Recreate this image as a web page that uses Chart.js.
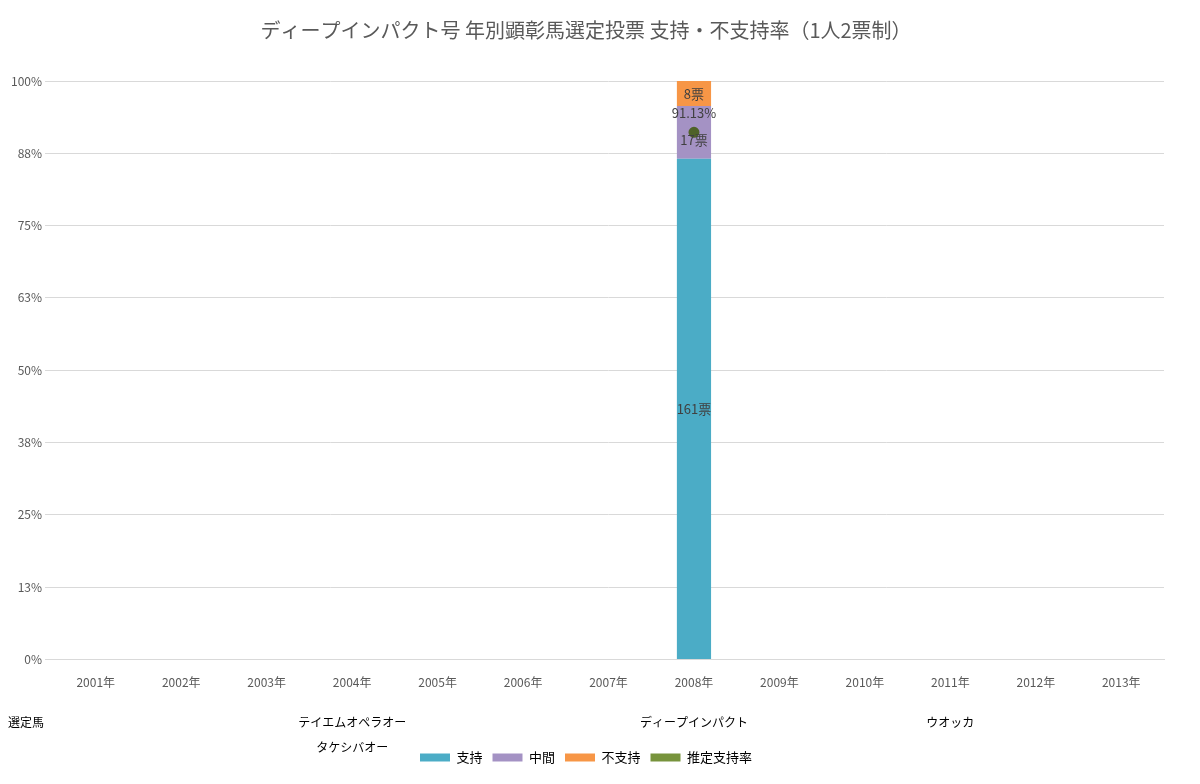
<!DOCTYPE html>
<html><head><meta charset="utf-8">
<script src="https://cdn.jsdelivr.net/npm/chart.js@4/dist/chart.umd.min.js"></script>
<style>html,body{margin:0;background:#fff}#w{width:1200px;height:784px}</style>
</head><body><div id="w"><canvas id="c"></canvas></div>
<script>
const years=["2001年","2002年","2003年","2004年","2005年","2006年","2007年","2008年","2009年","2010年","2011年","2012年","2013年"];
const horses=["","","",["テイエムオペラオー","タケシバオー"],"","","",["ディープインパクト"],"","",["ウオッカ"],"",""];
const supportVotes=[null,null,null,null,null,null,null,161,null,null,null,null,null];
const middleVotes=[null,null,null,null,null,null,null,17,null,null,null,null,null];
const againstVotes=[null,null,null,null,null,null,null,8,null,null,null,null,null];
const estRate=[null,null,null,null,null,null,null,91.13,null,null,null,null,null];
const yTicks=["0%","13%","25%","38%","50%","63%","75%","88%","100%"];
const pct=(a)=>a.map((v,i)=>v==null?null:v/(supportVotes[i]+middleVotes[i]+againstVotes[i])*100);
const F="'Noto Sans CJK JP','Noto Sans',sans-serif";
const labelsPlugin={id:'lbl',afterDatasetsDraw(ch){const c=ch.ctx;c.save();c.font="13px "+F;c.fillStyle="#404040";c.textAlign="center";c.textBaseline="middle";
 const raw=[supportVotes,middleVotes,againstVotes];
 for(let d=0;d<3;d++){const m=ch.getDatasetMeta(d);m.data.forEach((b,i)=>{if(raw[d][i]==null)return;c.fillText(raw[d][i]+"票",b.x,(b.y+b.base)/2+(d==1?8:(d==2?1:0)));});}
 const m=ch.getDatasetMeta(3);m.data.forEach((p,i)=>{if(estRate[i]==null)return;c.fillText(estRate[i].toFixed(2)+"%",p.x,p.y-19);});
 c.fillStyle="#000";c.font="12px "+F;
 const xs=ch.scales.x;horses.forEach((h,i)=>{if(!h)return;h.forEach((s,k)=>c.fillText(s,xs.getPixelForValue(i),722+k*25));});
 c.textAlign="left";c.fillText("選定馬",8,722);c.restore();}};
new Chart(document.getElementById('c'),{
 data:{labels:years,datasets:[
  {type:'bar',label:'支持',data:pct(supportVotes),backgroundColor:'#4bacc6',stack:'s',order:2},
  {type:'bar',label:'中間',data:pct(middleVotes),backgroundColor:'#a492c4',stack:'s',order:2},
  {type:'bar',label:'不支持',data:pct(againstVotes),backgroundColor:'#f79646',stack:'s',order:2},
  {type:'line',label:'推定支持率',data:estRate,borderColor:'#77933c',backgroundColor:'#4f6228',pointRadius:4,pointBorderColor:'#4f6228',borderWidth:3,order:1}
 ]},
 options:{responsive:true,maintainAspectRatio:false,animation:false,
  layout:{padding:{left:8,right:36,top:10,bottom:10}},
  datasets:{bar:{barPercentage:0.4,categoryPercentage:1}},
  plugins:{title:{display:true,text:'ディープインパクト号 年別顕彰馬選定投票 支持・不支持率（1人2票制）',color:'#595959',font:{size:20,family:F,weight:'normal'},padding:{top:8,bottom:39}},
   legend:{position:'bottom',labels:{color:'#404040',font:{size:13,family:F},boxWidth:30,boxHeight:8,padding:10,
    generateLabels(ch){return ch.data.datasets.map((d,i)=>({text:d.label,fillStyle:i==3?'#77933c':d.backgroundColor,strokeStyle:i==3?'#77933c':d.backgroundColor,lineWidth:0,datasetIndex:i}));}}},
   tooltip:{enabled:false}},
  scales:{x:{stacked:true,grid:{display:false},border:{color:'#d9d9d9'},
    ticks:{color:'#595959',font:{size:12,family:F},maxRotation:0,autoSkip:false,padding:8,
     callback:(v,i)=>[years[i],"","",""]}},
   y:{stacked:true,min:0,max:100,border:{display:false},grid:{color:'#d9d9d9'},
    ticks:{stepSize:12.5,color:'#595959',font:{size:12,family:F},callback:(v)=>yTicks[Math.round(v/12.5)]}}}},
 plugins:[labelsPlugin]});
</script></body></html>
